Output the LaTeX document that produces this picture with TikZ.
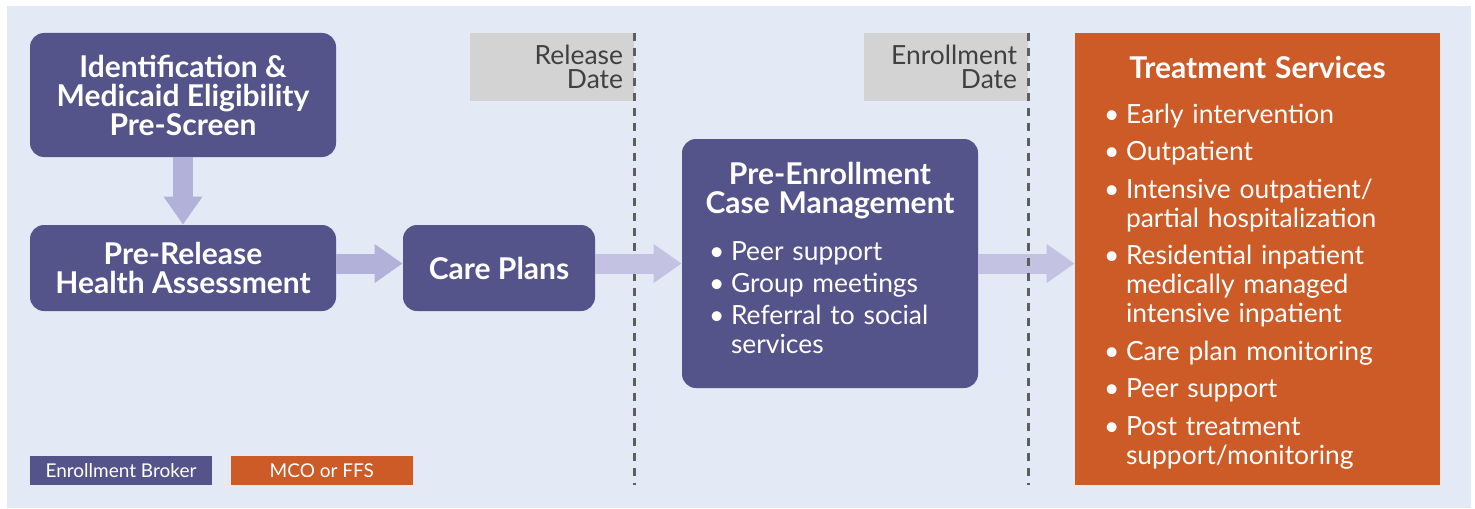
\documentclass[tikz,border=0pt]{standalone}
\usepackage{fontspec}
\setmainfont{Lato}
\usetikzlibrary{arrows.meta}
\usetikzlibrary{positioning}

\definecolor{bgblue}{HTML}{E3E9F5}
\definecolor{broker}{HTML}{55548A}
\definecolor{mco}{HTML}{CC5B27}
\definecolor{dategray}{HTML}{D3D3D3}
\definecolor{datetext}{HTML}{404040}
\definecolor{flowA}{HTML}{B1B1DA}
\definecolor{flowB}{HTML}{C3C2E3}
\definecolor{dashgray}{HTML}{5E5E5E}

% bullet line with hanging indent
\newcommand{\bitem}{\par\hangindent=11pt\hangafter=1\noindent\makebox[11pt][l]{\textbullet}}
\newcommand{\boxtitle}{\bfseries\fontsize{15}{14.5}\selectfont}
\newcommand{\listfont}{\fontsize{13.2}{14.5}\selectfont}

\begin{document}
\begin{tikzpicture}[x=0.5pt,y=-0.5pt,
flowbox/.style={fill=broker,rounded corners=7pt,text=white,inner sep=0pt,align=center,font=\boxtitle},
datebox/.style={fill=dategray,text=datetext,inner xsep=5.5pt,inner ysep=0pt,text width=71pt,minimum height=34pt,align=right,font=\fontsize{13.2}{12}\selectfont},
keybox/.style={text=white,minimum width=91pt,minimum height=14.5pt,inner sep=0pt,font=\fontsize{9.5}{10}\selectfont},
flow/.style={line width=10pt,-{Triangle[width=18.5pt,length=14pt]}},
dateline/.style={dashgray,line width=1.25pt,dash pattern=on 4pt off 3.5pt}]

% hatter
\useasboundingbox (0,0) rectangle (1475,508);
\fill[bgblue] (7,6) rectangle (1471,508);

% blokkok
\node[flowbox,minimum width=153pt,minimum height=62pt] (ident) at (183,95) {Identification \&\\Medicaid Eligibility\\Pre-Screen};
\node[flowbox,minimum width=153pt,minimum height=43pt] (prerel) at (183,268) {Pre-Release\\Health Assessment};
\node[flowbox,minimum width=96pt,minimum height=43pt] (care) at (499,268) {Care Plans};
\node[flowbox,minimum width=148pt,minimum height=124.5pt,text width=121pt,align=left,font=\listfont] (preenr) at (830,263.5) {%
\setlength{\parskip}{1.5pt}%
{\centering\boxtitle \makebox[\linewidth]{Pre-Enrollment}\\\makebox[\linewidth]{Case Management}\par}
\vspace{7.5pt}
\bitem Peer support
\bitem Group meetings
\bitem Referral to social\newline services\par
\vspace*{6pt}};
\node[fill=mco,text=white,inner sep=0pt,minimum width=182.5pt,minimum height=226pt,text width=153.5pt,align=left,font=\listfont] (svc) at (1257.5,259) {%
\setlength{\parskip}{4.25pt}%
{\centering\boxtitle Treatment Services\par}
\vspace{3.75pt}
\bitem Early intervention
\bitem Outpatient
\bitem Intensive outpatient/\newline partial hospitalization
\bitem Residential inpatient\newline medically managed\newline intensive inpatient
\bitem Care plan monitoring
\bitem Peer support
\bitem Post treatment\newline support/monitoring\par
\vspace{-3.5pt}};

% datumok
\node[datebox] (reldate) at (552,67) {Release\\Date};
\node[datebox] (enrdate) at (946,67) {Enrollment\\Date};

% szaggatott vonal
\draw[dateline] (reldate.north east) -- (reldate.north east |- svc.south);

% nyilak
\draw[flow,flowA] (ident) -- (prerel);
\draw[flow,flowA] (prerel.east |- preenr) -- (care.west |- preenr);
\draw[flow,flowB] (care.east |- preenr) -- (preenr.west);
\draw[flow,flowB] (preenr.east) -- (svc.west |- preenr);

\draw[dateline] (enrdate.north east) -- (enrdate.north east |- svc.south);

% jelmagyarazat
\node[keybox,fill=broker] (keybroker) at (121,470.5) {Enrollment Broker};
\node[keybox,fill=mco,right=9pt of keybroker] (keymco) {MCO or FFS};
\end{tikzpicture}
\end{document}
